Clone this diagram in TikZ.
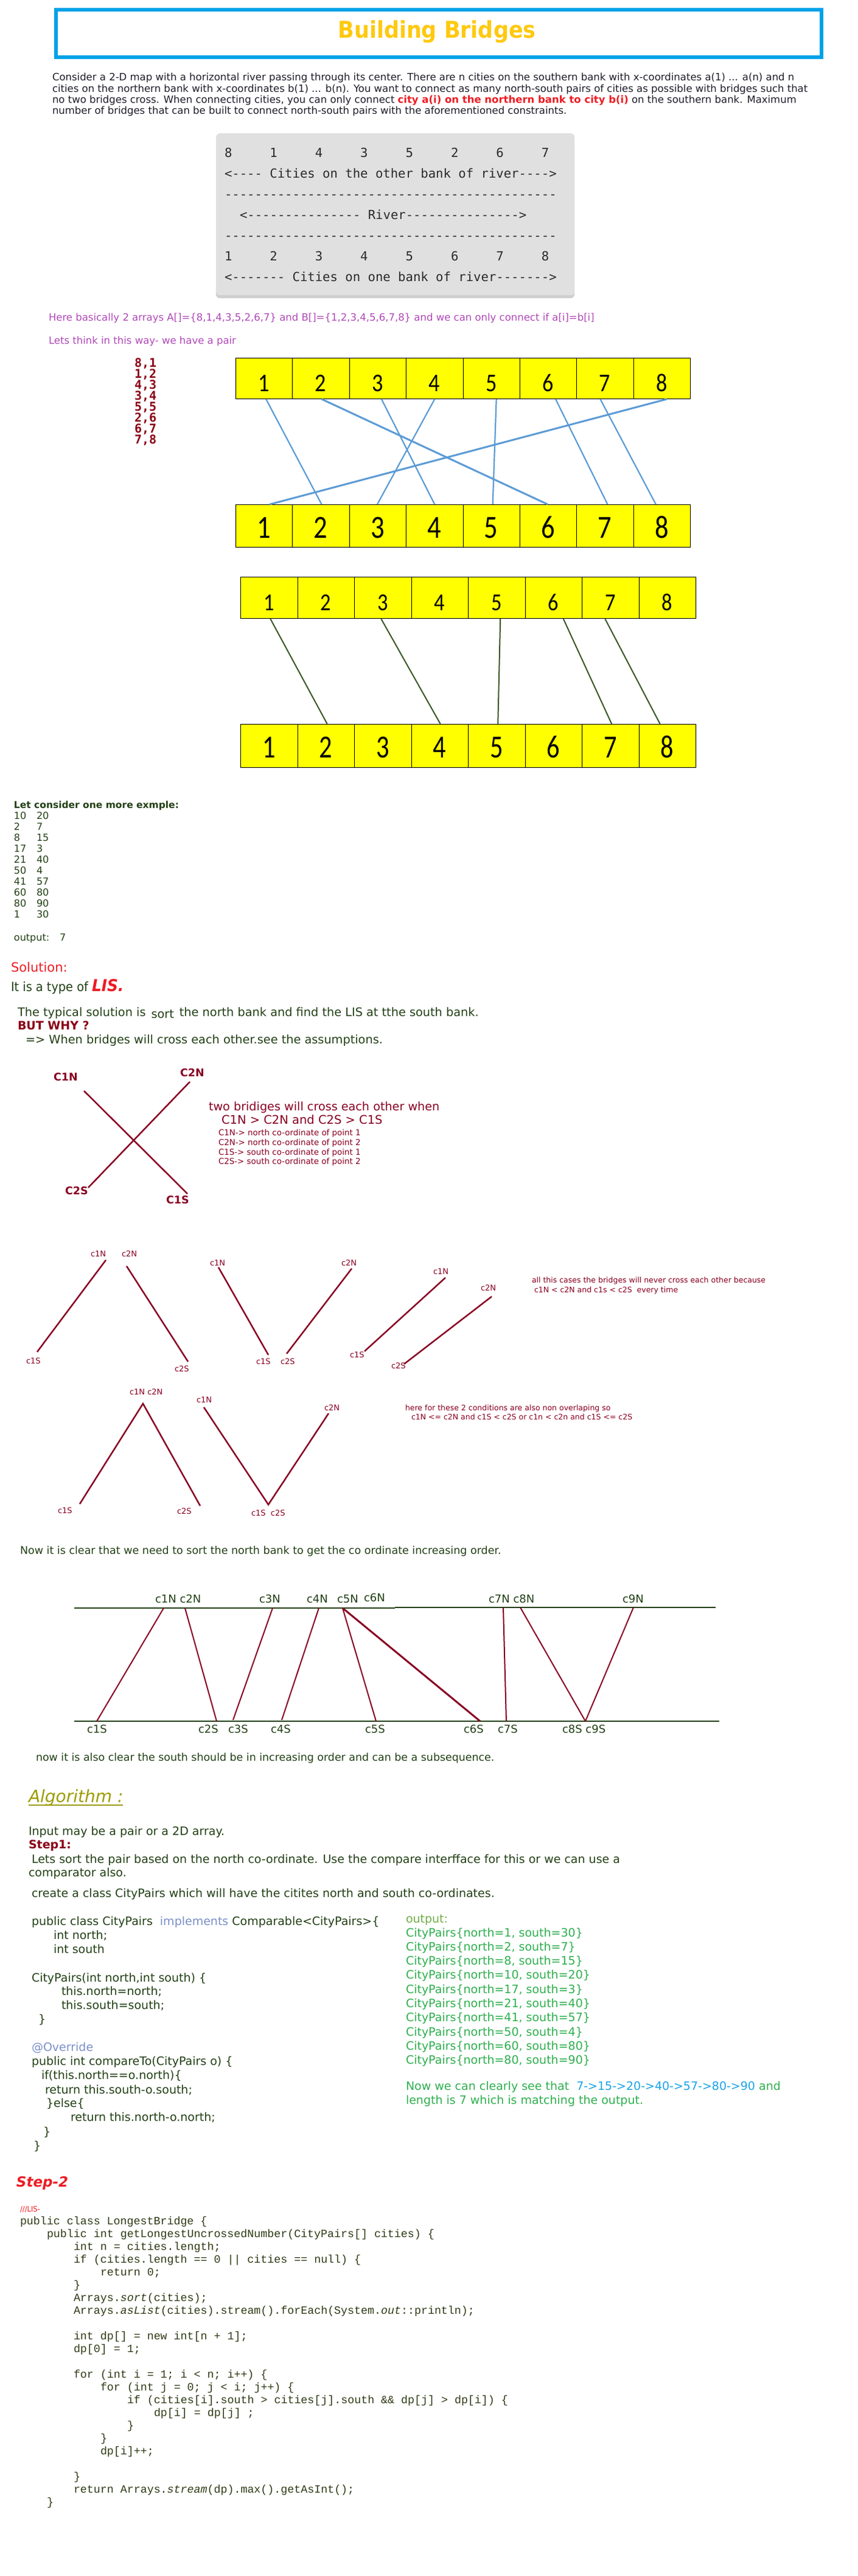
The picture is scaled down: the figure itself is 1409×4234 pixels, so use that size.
\documentclass[tikz,border=0pt]{standalone}
\usepackage{fontspec}
\setmainfont{DejaVu Sans}
\setmonofont{DejaVu Sans Mono}
\newfontfamily\tah{DejaVu Sans}[FakeStretch=0.92]
\newfontfamily\cmono{Liberation Mono}
\newfontfamily\calib{Carlito}
\usetikzlibrary{calc}
\newcommand\FSZ[1]{\fontsize{#1}{#1}\selectfont}
\definecolor{titleblue}{HTML}{00A2E8}
\definecolor{gold}{HTML}{FFC90E}
\definecolor{txtc}{HTML}{1E1E2A}
\definecolor{hired}{HTML}{ED1C24}
\definecolor{boxgray}{HTML}{E0E0E0}
\definecolor{boxshadow}{HTML}{CFCFCF}
\definecolor{gbtext}{HTML}{2A2A2A}
\definecolor{purp}{HTML}{B04AB8}
\definecolor{dred}{HTML}{8B0016}
\definecolor{cellyel}{HTML}{FFFF00}
\definecolor{bline}{HTML}{5B9BD5}
\definecolor{gline}{HTML}{385723}
\definecolor{dgreen}{HTML}{234016}
\definecolor{maroon}{HTML}{880022}
\definecolor{olivec}{HTML}{9C9C00}
\definecolor{outgreen}{HTML}{2EAF4E}
\definecolor{outlabel}{HTML}{70AD47}
\definecolor{lblue}{HTML}{1AA3E8}
\definecolor{kwblue}{HTML}{7A8FC8}
\definecolor{codecol}{HTML}{2E3A14}
\tikzset{
 tx/.style={anchor=base west, inner sep=0pt, outer sep=0pt},
 para/.style={font={\FSZ{16.5}}, text=txtc},
 purpt/.style={font={\FSZ{16.5}}, text=purp},
 gbt/.style={font={\ttfamily\FSZ{20.6}}, text=gbtext},
 pairt/.style={font={\ttfamily\bfseries\FSZ{20}}, text=dred},
 exs/.style={font={\FSZ{16}}, text=dgreen},
 bodyt/.style={font={\FSZ{17.5}}, text=dgreen},
 bodyb/.style={font={\FSZ{19.3}}, text=dgreen},
 xlab/.style={font={\bfseries\FSZ{17.5}}, text=maroon},
 xexp/.style={font={\FSZ{19.2}}, text=maroon},
 xsmall/.style={font={\FSZ{13.4}}, text=maroon},
 clab/.style={font={\FSZ{13}}, text=maroon},
 ctext/.style={font={\FSZ{12.5}}, text=maroon},
 slab/.style={font={\FSZ{18}}, text=dgreen},
 algt/.style={font={\FSZ{19}}, text=dgreen},
 outt/.style={font={\FSZ{19}}, text=outgreen},
 jcode/.style={font={\cmono\FSZ{18.3}}, text=codecol},
 bl/.style={draw=bline, line width=2.2pt},
 blthick/.style={draw=bline, line width=3pt},
 gl/.style={draw=gline, line width=2pt},
 mr/.style={draw=maroon, line width=2.5pt},
 mrthin/.style={draw=maroon, line width=2pt},
 bankl/.style={draw=dgreen, line width=2pt},
 cellA/.style={fill=cellyel, draw=black, line width=1pt, inner sep=0pt, anchor=north west},
 digit/.style={anchor=base, inner sep=0pt, text=black},
}
\begin{document}
\begin{tikzpicture}[x=1pt,y=-1pt]
\useasboundingbox (0,0) rectangle (1409,4234);
\fill[white] (0,0) rectangle (1409,4234);

% ---------- title ----------
\node[draw=titleblue, line width=6pt, minimum width=1258pt, minimum height=78pt, anchor=north west, inner sep=0pt] (titlebox) at (89,13) {};
\node[anchor=base, inner sep=0pt, font={\tah\bfseries\FSZ{38}}, text=gold] (title) at (718,63) {Building Bridges};

% ---------- paragraph ----------
\node[tx,para] (p1) at (86,133) {Consider a 2-D map with a horizontal river passing through its center. There are n cities on the southern bank with x-coordinates a(1) ... a(n) and n};
\node[tx,para] (p2) at (86,151) {cities on the northern bank with x-coordinates b(1) ... b(n). You want to connect as many north-south pairs of cities as possible with bridges such that};
\node[tx,para] (p3) at (86,169) {no two bridges cross. When connecting cities, you can only connect {\color{hired}\bfseries city a(i) on the northern bank to city b(i)} on the southern bank. Maximum};
\node[tx,para] (p4) at (86,187) {number of bridges that can be built to connect north-south pairs with the aforementioned constraints.};

% ---------- gray box ----------
\fill[boxshadow, rounded corners=6pt] (355,224) rectangle (944,490);
\node[fill=boxgray, rounded corners=6pt, minimum width=589pt, minimum height=266pt, anchor=north west, inner sep=0pt] (graybox) at (355,219) {};
\node[tx,gbt] (g1) at (369,258) {8~~~~~1~~~~~4~~~~~3~~~~~5~~~~~2~~~~~6~~~~~7};
\node[tx,gbt] (g2) at (369,292) {<---- Cities on the other bank of river---->};
\node[tx,gbt] (g3) at (369,326) {--------------------------------------------};
\node[tx,gbt] (g4) at (394,360) {<--------------- River--------------->};
\node[tx,gbt] (g5) at (369,394) {--------------------------------------------};
\node[tx,gbt] (g6) at (369,428) {1~~~~~2~~~~~3~~~~~4~~~~~5~~~~~6~~~~~7~~~~~8};
\node[tx,gbt] (g7) at (369,462) {<------- Cities on one bank of river------->};

% ---------- purple text ----------
\node[tx,purpt] (h1) at (80,527) {Here basically 2 arrays A[]=\{8,1,4,3,5,2,6,7\} and B[]=\{1,2,3,4,5,6,7,8\} and we can only connect if a[i]=b[i]};
\node[tx,purpt] (h2) at (80,565) {Lets think in this way- we have a pair};

% ---------- pair list ----------
\foreach \a/\b [count=\i from 0] in {8/1,1/2,4/3,3/4,5/5,2/6,6/7,7/8}{
  \node[tx,pairt] (q\i) at ({221},{603+18*\i}) {\a,\b};
}

% ---------- array diagram 1 ----------
\foreach \k in {1,...,8}{
  \node[cellA, minimum width=93.375pt, minimum height=67pt] (A\k) at ({387+(\k-1)*93.375},588) {};
  \node[digit, font={\calib\FSZ{42}}] (Ad\k) at ({387+(\k-0.5)*93.375},643) {\scalebox{0.86}[1]{\k}};
  \node[cellA, minimum width=93.375pt, minimum height=70pt] (B\k) at ({387+(\k-1)*93.375},829) {};
  \node[digit, font={\calib\FSZ{53}}] (Bd\k) at ({387+(\k-0.5)*93.375},884) {\scalebox{0.84}[1]{\k}};
}
\draw[bl] ([xshift=3pt]A1.south) -- ([xshift=1pt]B2.north);
\draw[blthick] ([xshift=1pt]A2.south) -- ([xshift=-1pt]B6.north);
\draw[bl] ([xshift=6pt]A3.south) -- ([xshift=0pt]B4.north);
\draw[bl] ([xshift=0pt]A4.south) -- ([xshift=-1pt]B3.north);
\draw[bl] ([xshift=8pt]A5.south) -- ([xshift=2pt]B5.north);
\draw[bl] ([xshift=12pt]A6.south) -- ([xshift=4pt]B7.north);
\draw[bl] ([xshift=-8pt]A7.south) -- ([xshift=-10pt]B8.north);
\draw[blthick] ([xshift=8pt]A8.south) -- ([xshift=9pt]B1.north);

% ---------- array diagram 2 ----------
\foreach \k in {1,...,8}{
  \node[cellA, minimum width=93.5pt, minimum height=68pt] (C\k) at ({395+(\k-1)*93.5},948) {};
  \node[digit, font={\calib\FSZ{40}}] (Cd\k) at ({395+(\k-0.5)*93.5},1003) {\scalebox{0.86}[1]{\k}};
  \node[cellA, minimum width=93.5pt, minimum height=71pt] (D\k) at ({395+(\k-1)*93.5},1190) {};
  \node[digit, font={\calib\FSZ{53}}] (Dd\k) at ({395+(\k-0.5)*93.5},1245) {\scalebox{0.8}[1]{\k}};
}
\draw[gl] ([xshift=2pt]C1.south) -- ([xshift=2pt]D2.north);
\draw[gl] ([xshift=-3pt]C3.south) -- ([xshift=1pt]D4.north);
\draw[gl] ([xshift=6pt]C5.south) -- ([xshift=2pt]D5.north);
\draw[gl] ([xshift=16pt]C6.south) -- ([xshift=2pt]D7.north);
\draw[gl] ([xshift=-9pt]C7.south) -- ([xshift=-12pt]D8.north);

% ---------- example ----------
\node[tx, font={\bfseries\FSZ{15.5}}, text=dgreen] (ex0) at (23,1328) {Let consider one more exmple:};
\foreach \a/\b [count=\i from 0] in {10/20,2/7,8/15,17/3,21/40,50/4,41/57,60/80,80/90,1/30}{
  \node[tx,exs] (exa\i) at ({23},{1346+18*\i}) {\a};
  \node[tx,exs] (exb\i) at ({60},{1346+18*\i}) {\b};
}
\node[tx,exs] (exo) at (23,1546) {output:};
\node[tx,exs] (exo7) at (98,1546) {7};

\node[tx, font={\FSZ{21}}, text=hired] (sol) at (18,1597) {Solution:};
\node[tx, font={\tah\FSZ{21}}, text=dgreen] (lis) at (18,1629) {It is a type of {\color{hired}\FSZ{27}\bfseries\itshape LIS.}};

% ---------- typical solution ----------
\node[tx,bodyb] (ts1) at (29,1670) {The typical solution is\hspace{9pt}\raisebox{-3pt}{sort}\hspace{9pt}the north bank and find the LIS at tthe south bank.};
\node[tx, font={\bfseries\FSZ{19}}, text=dred] (why) at (29,1692) {BUT WHY ?};
\node[tx,bodyb] (ts2) at (42,1715) {=> When bridges will cross each other.see the assumptions.};

% ---------- X diagram ----------
\node[tx,xlab] (c1n) at (88,1776) {C1N};
\node[tx,xlab] (c2n) at (296,1769) {C2N};
\node[tx,xlab] (c2s) at (107,1963) {C2S};
\node[tx,xlab] (c1s) at (273,1978) {C1S};
\coordinate (xa1) at (138,1793); \coordinate (xa2) at (308,1962);
\coordinate (xb1) at (312,1778); \coordinate (xb2) at (145,1952);
\draw[mr] (xa1) -- (xa2);
\draw[mr] (xb1) -- (xb2);
\node[tx,xexp] (xe1) at (343,1825) {two bridiges will cross each other when};
\node[tx, font={\FSZ{19.5}}, text=maroon] (xe2) at (364,1847) {C1N > C2N and C2S > C1S};
\node[tx,xsmall] (xs1) at (359,1866) {C1N-> north co-ordinate of point 1};
\node[tx,xsmall] (xs2) at (359,1882) {C2N-> north co-ordinate of point 2};
\node[tx,xsmall] (xs3) at (359,1898) {C1S-> south co-ordinate of point 1};
\node[tx,xsmall] (xs4) at (359,1913) {C2S-> south co-ordinate of point 2};

% ---------- cases row 1 ----------
\node[tx,clab] (k1n) at (149,2065) {c1N};
\node[tx,clab] (k2n) at (200,2065) {c2N};
\node[tx,clab] (k1s) at (43,2241) {c1S};
\node[tx,clab] (k2s) at (287,2254) {c2S};
\coordinate (ka1) at (174,2071); \coordinate (ka2) at (61,2222);
\coordinate (kb1) at (208,2081); \coordinate (kb2) at (309,2238);
\draw[mr] (ka1) -- (ka2);
\draw[mr] (kb1) -- (kb2);

\node[tx,clab] (l1n) at (345,2080) {c1N};
\node[tx,clab] (l2n) at (561,2080) {c2N};
\node[tx,clab] (l1s) at (421,2242) {c1S};
\node[tx,clab] (l2s) at (461,2242) {c2S};
\coordinate (la1) at (359,2083); \coordinate (la2) at (441,2227);
\coordinate (lb1) at (578,2085); \coordinate (lb2) at (471,2225);
\draw[mr] (la1) -- (la2);
\draw[mr] (lb1) -- (lb2);

\node[tx,clab] (m1n) at (712,2094) {c1N};
\node[tx,clab] (m2n) at (790,2121) {c2N};
\node[tx,clab] (m1s) at (575,2231) {c1S};
\node[tx,clab] (m2s) at (643,2249) {c2S};
\coordinate (ma1) at (732,2100); \coordinate (ma2) at (599,2221);
\coordinate (mb1) at (808,2131); \coordinate (mb2) at (664,2242);
\draw[mr] (ma1) -- (ma2);
\draw[mr] (mb1) -- (mb2);

\node[tx,ctext] (kt1) at (874,2108) {all this cases the bridges will never cross each other because};
\node[tx,ctext] (kt2) at (878,2124) {c1N < c2N and c1s < c2S\ \ every time};

% ---------- cases row 2 ----------
\node[tx,clab] (n12) at (213,2292) {c1N c2N};
\node[tx,clab] (n1s) at (95,2487) {c1S};
\node[tx,clab] (n2s) at (291,2488) {c2S};
\coordinate (na) at (235,2307); \coordinate (nb) at (131,2472); \coordinate (nc) at (329,2475);
\draw[mr] (nb) -- (na) -- (nc);

\node[tx,clab] (o1n) at (323,2305) {c1N};
\node[tx,clab] (o2n) at (533,2318) {c2N};
\node[tx,clab] (o12s) at (413,2491) {c1S\ \ c2S};
\coordinate (oa) at (335,2313); \coordinate (ob) at (441,2473); \coordinate (oc) at (540,2323);
\draw[mr] (oa) -- (ob) -- (oc);

\node[tx,ctext] (nt1) at (666,2318) {here for these 2 conditions are also non overlaping so};
\node[tx,ctext] (nt2) at (676,2333) {c1N <= c2N and c1S < c2S or c1n < c2n and c1S <= c2S};

% ---------- sorted diagram ----------
\node[tx,bodyt] (nw) at (33,2554) {Now it is clear that we need to sort the north bank to get the co ordinate increasing order.};
\coordinate (tl1) at (122,2643); \coordinate (tl2) at (649,2643);
\coordinate (tl3) at (649,2642); \coordinate (tl4) at (1176,2642);
\coordinate (bl1) at (122,2829); \coordinate (bl2) at (1182,2829);
\draw[bankl] (tl1) -- (tl2);
\draw[bankl] (tl3) -- (tl4);
\draw[bankl] (bl1) -- (bl2);

\node[tx,slab] (sn12) at (255,2634) {c1N c2N};
\node[tx,slab] (sn3) at (426,2634) {c3N};
\node[tx,slab] (sn4) at (504,2634) {c4N};
\node[tx,slab] (sn5) at (554,2634) {c5N};
\node[tx,slab] (sn6) at (598,2632) {c6N};
\node[tx,slab] (sn78) at (803,2634) {c7N c8N};
\node[tx,slab] (sn9) at (1023,2634) {c9N};
\node[tx,slab] (ss1) at (143,2848) {c1S};
\node[tx,slab] (ss2) at (326,2848) {c2S};
\node[tx,slab] (ss3) at (375,2848) {c3S};
\node[tx,slab] (ss4) at (445,2848) {c4S};
\node[tx,slab] (ss5) at (600,2848) {c5S};
\node[tx,slab] (ss6) at (762,2848) {c6S};
\node[tx,slab] (ss7) at (818,2848) {c7S};
\node[tx,slab] (ss89) at (924,2848) {c8S c9S};

\coordinate (u1) at (269,2643); \coordinate (v1) at (159,2829);
\coordinate (u2) at (304,2643); \coordinate (v2) at (356,2829);
\coordinate (u3) at (448,2643); \coordinate (v3) at (383,2827);
\coordinate (u4) at (524,2643); \coordinate (v4) at (463,2827);
\coordinate (u5) at (563,2643); \coordinate (v5) at (618,2829);
\coordinate (v6) at (789,2829);
\coordinate (u7) at (827,2642); \coordinate (v7) at (832,2829);
\coordinate (u8) at (855,2642); \coordinate (v8) at (962,2829);
\coordinate (u9) at (1041,2642);
\draw[mrthin] (u1) -- (v1);
\draw[mrthin] (u2) -- (v2);
\draw[mrthin] (u3) -- (v3);
\draw[mrthin] (u4) -- (v4);
\draw[mrthin] (u5) -- (v5);
\draw[mr, line width=3pt] (u5) -- (v6);
\draw[mrthin] (u7) -- (v7);
\draw[mrthin] (u8) -- (v8);
\draw[mrthin] (u9) -- (v8);

\node[tx,font={\FSZ{17.4}},text=dgreen] (nw2) at (59,2894) {now it is also clear the south should be in increasing order and can be a subsequence.};

% ---------- algorithm ----------
\node[tx, font={\itshape\FSZ{28}}, text=olivec] (alg) at (47,2962) {Algorithm :};
\draw[olivec, line width=1.8pt] ([yshift=-5pt]alg.base west) -- ([yshift=-5pt]alg.base east);
\node[tx,algt] (al1) at (47,3016) {Input may be a pair or a 2D array.};
\node[tx, font={\bfseries\FSZ{19}}, text=dred] (st1) at (47,3038) {Step1:};
\node[tx,algt] (al2) at (52,3062) {Lets sort the pair based on the north co-ordinate. Use the compare interfface for this or we can use a};
\node[tx,algt] (al3) at (47,3084) {comparator also.};
\node[tx,algt] (al4) at (52,3118) {create a class CityPairs which will have the citites north and south co-ordinates.};

\node[tx,algt] (cl1) at (52,3164) {public class CityPairs\ \ {\color{kwblue}implements} Comparable<CityPairs>\{};
\node[tx,algt] (cl2) at (88,3187) {int north;};
\node[tx,algt] (cl3) at (88,3210) {int south};
\node[tx,algt] (cl4) at (52,3257) {CityPairs(int north,int south) \{};
\node[tx,algt] (cl5) at (101,3279) {this.north=north;};
\node[tx,algt] (cl6) at (101,3302) {this.south=south;};
\node[tx,algt] (cl7) at (63,3325) {\}};
\node[tx,algt,text=kwblue] (cl8) at (52,3371) {@Override};
\node[tx,algt] (cl9) at (52,3394) {public int compareTo(CityPairs o) \{};
\node[tx,algt] (cl10) at (68,3417) {if(this.north==o.north)\{};
\node[tx,algt] (cl11) at (74,3441) {return this.south-o.south;};
\node[tx,algt] (cl12) at (76,3463) {\}else\{};
\node[tx,algt] (cl13) at (116,3486) {return this.north-o.north;};
\node[tx,algt] (cl14) at (71,3510) {\}};
\node[tx,algt] (cl15) at (55,3533) {\}};

\node[tx,outt,text=outlabel] (o0) at (667,3160) {output:};
\foreach \n/\s [count=\i from 0] in {1/30,2/7,8/15,10/20,17/3,21/40,41/57,50/4,60/80,80/90}{
  \node[tx,outt] (ol\i) at ({667},{3183+23.3*\i}) {CityPairs\{north=\n, south=\s\}};
}
\node[tx,outt] (oc1) at (667,3435) {Now we can clearly see that\ \ {\color{lblue}7->15->20->40->57->80->90} and};
\node[tx,outt] (oc2) at (667,3458) {length is 7 which is matching the output.};

% ---------- step 2 ----------
\node[tx, font={\bfseries\itshape\FSZ{23}}, text=hired] (st2) at (27,3594) {Step-2};
\node[tx, font={\tah\FSZ{12.5}}, text=hired] (lisc) at (33,3635) {///LIS-};
\node[tx,jcode] (j1) at (33,3656) {public class LongestBridge \{};
\node[tx,jcode] (j2) at (77,3677) {public int getLongestUncrossedNumber(CityPairs[] cities) \{};
\node[tx,jcode] (j3) at (121,3698) {int n = cities.length;};
\node[tx,jcode] (j4) at (121,3719) {if (cities.length == 0 || cities == null) \{};
\node[tx,jcode] (j5) at (165,3740) {return 0;};
\node[tx,jcode] (j6) at (121,3761) {\}};
\node[tx,jcode] (j7) at (121,3782) {Arrays.\textit{sort}(cities);};
\node[tx,jcode] (j8) at (121,3803) {Arrays.\textit{asList}(cities).stream().forEach(System.\textit{out}::println);};
\node[tx,jcode] (j10) at (121,3845) {int dp[] = new int[n + 1];};
\node[tx,jcode] (j11) at (121,3866) {dp[0] = 1;};
\node[tx,jcode] (j13) at (121,3908) {for (int i = 1; i < n; i++) \{};
\node[tx,jcode] (j14) at (165,3929) {for (int j = 0; j < i; j++) \{};
\node[tx,jcode] (j15) at (209,3950) {if (cities[i].south > cities[j].south \&\& dp[j] > dp[i]) \{};
\node[tx,jcode] (j16) at (253,3971) {dp[i] = dp[j] ;};
\node[tx,jcode] (j17) at (209,3992) {\}};
\node[tx,jcode] (j18) at (165,4013) {\}};
\node[tx,jcode] (j19) at (165,4034) {dp[i]++;};
\node[tx,jcode] (j21) at (121,4076) {\}};
\node[tx,jcode] (j22) at (121,4097) {return Arrays.\textit{stream}(dp).max().getAsInt();};
\node[tx,jcode] (j23) at (77,4118) {\}};
\end{tikzpicture}
\end{document}
